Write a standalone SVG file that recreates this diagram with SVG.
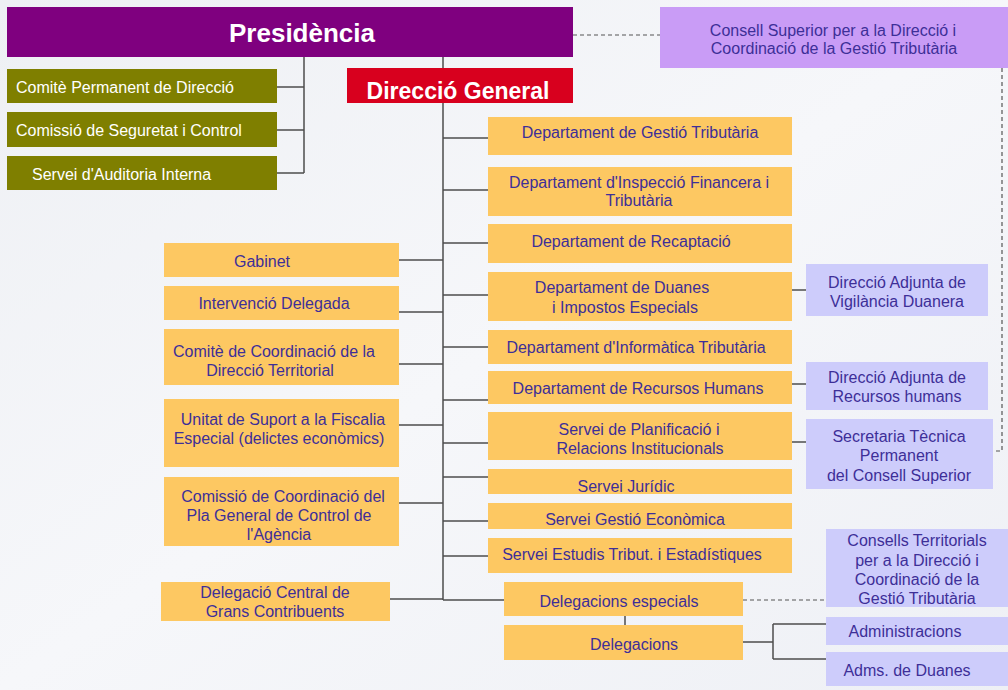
<svg xmlns="http://www.w3.org/2000/svg" width="1008" height="690" viewBox="0 0 1008 690">
<defs>
<linearGradient id="bg" x1="0" y1="0" x2="1" y2="1">
<stop offset="0" stop-color="#eef0f4"/>
<stop offset="0.5" stop-color="#f6f7fa"/>
<stop offset="1" stop-color="#eef0f5"/>
</linearGradient>
<style>
.t{font-family:"Liberation Sans",Arial,sans-serif;font-size:16px;fill:#3d2f98;text-anchor:middle}
.w{font-family:"Liberation Sans",Arial,sans-serif;font-size:16px;fill:#ffffff}
.hb{font-family:"Liberation Sans",Arial,sans-serif;font-weight:bold;fill:#ffffff;text-anchor:middle}
.y{fill:#fdc862}
.l{fill:#cdccfb}
.o{fill:#7f7f00}
.ln{stroke:#4d4d4d;stroke-width:1.5;fill:none}
.ds{stroke:#555555;stroke-width:1.2;fill:none;stroke-dasharray:4 3}
</style>
</defs>
<rect width="1008" height="690" fill="url(#bg)"/>
<g id="connectors">
<path class="ln" d="M304,57 V173 M277,87 H304 M277,130 H304 M277,173 H304"/>
<path class="ln" d="M443,57 V600"/>
<path class="ln" d="M443,138 H488 M443,190 H488 M443,243 H488 M443,295 H488 M443,347 H488 M443,400 H488 M443,443 H488 M443,477 H488 M443,521 H488 M443,556 H488 M443,600 H504"/>
<path class="ln" d="M399,260 H443 M399,312 H443 M399,364 H443 M399,425 H443 M399,503 H443 M390,599 H443"/>
<path class="ln" d="M792,290 H806 M792,384 H806 M792,442 H806"/>
<path class="ln" d="M625,616 V626"/>
<path class="ln" d="M743,642 H773 M773,624 V659 M773,624 H826 M773,659 H826"/>
<path class="ds" d="M573,35 H660"/>
<path class="ds" d="M1002,68 V451 H993"/>
<path class="ds" d="M743,600 H826"/>
</g>
<g id="presidencia">
<rect x="7" y="7" width="566" height="50" fill="#7f007f"/>
<text class="hb" x="302" y="42" font-size="26">Presidència</text>
</g>
<g id="comite-permanent">
<rect class="o" x="7" y="69" width="270" height="34"/>
<text class="w" x="16" y="93">Comitè Permanent de Direcció</text>
</g>
<g id="comissio-seguretat">
<rect class="o" x="7" y="112" width="270" height="35"/>
<text class="w" x="16" y="136">Comissió de Seguretat i Control</text>
</g>
<g id="servei-auditoria">
<rect class="o" x="7" y="156" width="270" height="34"/>
<text class="w" x="32" y="180">Servei d'Auditoria Interna</text>
</g>
<g id="direccio-general">
<rect x="347" y="68" width="226" height="35" fill="#d8001e"/>
<text class="hb" x="458" y="99" font-size="23">Direcció General</text>
</g>
<g id="consell-superior">
<rect x="660" y="7" width="348" height="61" fill="#c99cf6"/>
<text class="t" x="833" y="36">Consell Superior per a la Direcció i</text>
<text class="t" x="834" y="54">Coordinació de la Gestió Tributària</text>
</g>
<g id="dep-gestio">
<rect class="y" x="488" y="117" width="304" height="38"/>
<text class="t" x="640" y="138">Departament de Gestió Tributària</text>
</g>
<g id="dep-inspeccio">
<rect class="y" x="488" y="167" width="304" height="49"/>
<text class="t" x="639" y="188">Departament d'Inspecció Financera i</text>
<text class="t" x="639" y="206">Tributària</text>
</g>
<g id="dep-recaptacio">
<rect class="y" x="488" y="224" width="304" height="39"/>
<text class="t" x="631" y="247">Departament de Recaptació</text>
</g>
<g id="dep-duanes">
<rect class="y" x="488" y="272" width="304" height="49"/>
<text class="t" x="622" y="293">Departament de Duanes</text>
<text class="t" x="625" y="313">i Impostos Especials</text>
</g>
<g id="dep-informatica">
<rect class="y" x="488" y="330" width="304" height="34"/>
<text class="t" x="636" y="353">Departament d'Informàtica Tributària</text>
</g>
<g id="dep-rrhh">
<rect class="y" x="488" y="371" width="304" height="33"/>
<text class="t" x="638" y="394">Departament de Recursos Humans</text>
</g>
<g id="servei-planificacio">
<rect class="y" x="488" y="412" width="304" height="48"/>
<text class="t" x="639" y="435">Servei de Planificació i</text>
<text class="t" x="640" y="454">Relacions Institucionals</text>
</g>
<g id="servei-juridic">
<rect class="y" x="488" y="469" width="304" height="25"/>
<text class="t" x="626" y="492">Servei Jurídic</text>
</g>
<g id="servei-gestio-economica">
<rect class="y" x="488" y="503" width="304" height="26"/>
<text class="t" x="635" y="525">Servei Gestió Econòmica</text>
</g>
<g id="servei-estudis">
<rect class="y" x="488" y="538" width="304" height="35"/>
<text class="t" x="632" y="560">Servei Estudis Tribut. i Estadístiques</text>
</g>
<g id="delegacions-especials">
<rect class="y" x="504" y="582" width="239" height="34"/>
<text class="t" x="619" y="607">Delegacions especials</text>
</g>
<g id="delegacions">
<rect class="y" x="504" y="625" width="239" height="35"/>
<text class="t" x="634" y="650">Delegacions</text>
</g>
<g id="gabinet">
<rect class="y" x="164" y="243" width="235" height="34"/>
<text class="t" x="262" y="267">Gabinet</text>
</g>
<g id="intervencio">
<rect class="y" x="164" y="286" width="235" height="34"/>
<text class="t" x="274" y="309">Intervenció Delegada</text>
</g>
<g id="comite-coordinacio">
<rect class="y" x="164" y="329" width="235" height="56"/>
<text class="t" x="274" y="357">Comitè de Coordinació de la</text>
<text class="t" x="270" y="376">Direcció Territorial</text>
</g>
<g id="unitat-suport">
<rect class="y" x="164" y="399" width="235" height="68"/>
<text class="t" x="283" y="425">Unitat de Suport a la Fiscalia</text>
<text class="t" x="279" y="444">Especial (delictes econòmics)</text>
</g>
<g id="comissio-coordinacio">
<rect class="y" x="164" y="477" width="235" height="69"/>
<text class="t" x="283" y="502">Comissió de Coordinació del</text>
<text class="t" x="279" y="521">Pla General de Control de</text>
<text class="t" x="279" y="540">l'Agència</text>
</g>
<g id="delegacio-central">
<rect class="y" x="161" y="582" width="229" height="39"/>
<text class="t" x="275" y="598">Delegació Central de</text>
<text class="t" x="275" y="617">Grans Contribuents</text>
</g>
<g id="vigilancia-duanera">
<rect class="l" x="806" y="264" width="182" height="52"/>
<text class="t" x="897" y="288">Direcció Adjunta de</text>
<text class="t" x="897" y="307">Vigilància Duanera</text>
</g>
<g id="adjunta-rrhh">
<rect class="l" x="806" y="362" width="182" height="48"/>
<text class="t" x="897" y="383">Direcció Adjunta de</text>
<text class="t" x="897" y="402">Recursos humans</text>
</g>
<g id="secretaria-tecnica">
<rect class="l" x="806" y="419" width="187" height="70"/>
<text class="t" x="899" y="442">Secretaria Tècnica</text>
<text class="t" x="899" y="461">Permanent</text>
<text class="t" x="899" y="481">del Consell Superior</text>
</g>
<g id="consells-territorials">
<rect class="l" x="826" y="529" width="182" height="78"/>
<text class="t" x="917" y="546">Consells Territorials</text>
<text class="t" x="917" y="566">per a la Direcció i</text>
<text class="t" x="917" y="585">Coordinació de la</text>
<text class="t" x="917" y="604">Gestió Tributària</text>
</g>
<g id="administracions">
<rect class="l" x="826" y="617" width="182" height="28"/>
<text class="t" x="905" y="637">Administracions</text>
</g>
<g id="adms-duanes">
<rect class="l" x="826" y="652" width="182" height="34"/>
<text class="t" x="907" y="676">Adms. de Duanes</text>
</g>
</svg>
